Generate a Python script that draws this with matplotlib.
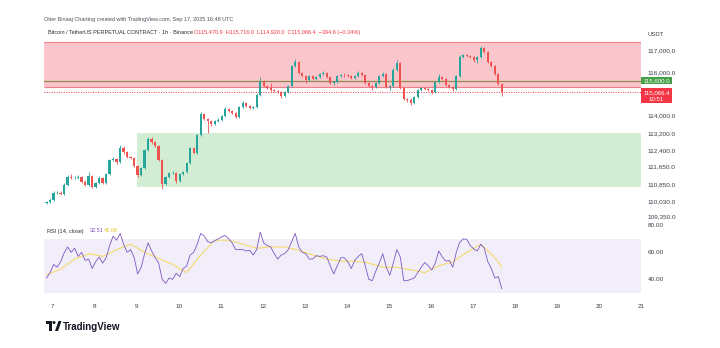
import numpy as np
import pandas as pd
import matplotlib
matplotlib.use("Agg")
import matplotlib.pyplot as plt
from matplotlib.patches import Rectangle, Polygon, Ellipse
import matplotlib.transforms as mtransforms

plt.rcParams['font.family'] = ['Liberation Sans', 'DejaVu Sans']

# ---------------- data (2h candles) ----------------
start_time = "2025-09-06 20:00"
first_open = 109970
closes = [110016, 110110, 110430, 110440, 110390, 110800, 111170, 111120, 111140, 111180,
          110940, 110800, 111220, 110710, 110890, 111120, 110900, 111300, 111950, 112000,
          111850, 112500, 112320, 112090, 112040, 111680, 111260, 111590, 112400, 112920,
          112780, 112600, 111950, 110850, 111170, 111350, 111360, 110980, 111310, 111380,
          111820, 112500, 112280, 113100, 114070, 113840, 113750, 113610, 113750, 113800,
          113980, 114300, 114210, 114120, 113940, 114400, 114580, 114440, 114350, 114390,
          114950, 115550, 115360, 115270, 115180, 115150, 115090, 114900, 115090, 115360,
          116290, 116470, 115960, 115820, 115640, 115820, 115690, 115780, 115920, 115960,
          115780, 115500, 115550, 115820, 115870, 115850, 115820, 115730, 115820, 115960,
          115870, 115500, 115360, 115320, 115500, 115820, 115920, 115320, 115360, 116100,
          116420, 115270, 114760, 114720, 114580, 114860, 115180, 115270, 115230, 115180,
          115090, 115550, 115780, 115690, 115410, 115320, 115230, 115820, 116700, 116790,
          116750, 116700, 116560, 116700, 117110, 116930, 116470, 116290, 115920, 115461,
          115066]
highs = [110080, 110180, 110500, 110520, 110500, 110870, 111260, 111300, 111220, 111260,
         111230, 111010, 111400, 111260, 110960, 111200, 111180, 111360, 112020, 112080,
         112060, 112650, 112580, 112380, 112150, 112100, 111720, 111650, 112460, 113010,
         112990, 112850, 112650, 111990, 111230, 111420, 111440, 111410, 111370, 111450,
         111880, 112560, 112540, 113160, 114170, 114120, 113900, 113790, 113810, 113870,
         114040, 114380, 114360, 114260, 114170, 114460, 114650, 114630, 114490, 114460,
         115020, 115780, 115620, 115420, 115500, 115240, 115200, 115140, 115150, 115420,
         116350, 116610, 116500, 116020, 115880, 115880, 115870, 115840, 115980, 116040,
         116010, 115830, 115600, 115880, 115930, 115950, 115900, 115870, 115880, 116040,
         116030, 115910, 115540, 115420, 115560, 115880, 116000, 115960, 115420, 116170,
         116560, 116460, 115310, 114830, 114790, 114920, 115230, 115340, 115330, 115290,
         115240, 115610, 115910, 115830, 115740, 115460, 115380, 115880, 116780, 116850,
         116860, 116810, 116760, 116760, 117200, 117170, 116980, 116520, 116330, 115970,
         115520]
lows = [109920, 109960, 110060, 110380, 110330, 110350, 110760, 111060, 111070, 111090,
        110900, 110740, 110770, 110660, 110650, 110850, 110850, 110860, 111250, 111900,
        111780, 111800, 112250, 112040, 111980, 111620, 111170, 111220, 111540, 112350,
        112700, 112530, 111900, 110620, 110800, 111110, 111300, 110880, 110940, 111260,
        111330, 111760, 112220, 112230, 113050, 113780, 113200, 113540, 113560, 113700,
        113740, 113930, 114150, 114060, 113880, 113890, 114350, 114380, 114290, 114300,
        114340, 114900, 115300, 115210, 115100, 115100, 115030, 114810, 114850, 115040,
        115310, 116230, 115910, 115760, 115500, 115580, 115640, 115640, 115730, 115870,
        115720, 115440, 115410, 115500, 115770, 115800, 115770, 115680, 115680, 115770,
        115820, 115450, 115300, 115180, 115260, 115440, 115770, 115260, 115180, 115300,
        116040, 115220, 114700, 114640, 114490, 114520, 114800, 115120, 115170, 115120,
        115000, 115040, 115500, 115630, 115350, 115260, 115140, 115170, 115760, 116640,
        116680, 116640, 116480, 116430, 116650, 116870, 116410, 116230, 115850, 115400,
        114920]
rsi = [41, 45, 51, 49, 53, 59.5, 64, 60, 63, 57, 60, 54, 55, 48, 53, 56.5, 52, 56, 65, 72,
       69, 74, 66, 60, 62, 56, 44, 49, 59, 67, 61, 56, 52, 40, 37, 41, 40, 44.5, 42, 48,
       50, 58, 60, 66, 74, 72, 68, 67, 68.5, 70, 71.5, 72.5, 70, 67, 62, 62, 62, 61, 61.5, 58,
       62, 75, 67, 65, 64, 59, 55, 58, 59, 62, 68, 74, 64, 60, 59, 55, 55, 57.5, 57, 57.5,
       56.5, 50, 44, 50, 56, 56, 53, 48, 54, 57, 59, 50, 40, 39, 46, 52, 59, 49, 43, 52,
       62, 56.5, 39, 39, 40, 41, 45, 49, 52.5, 50, 47, 52, 61, 56.5, 53.5, 54, 49, 60, 67.5, 70,
       69.5, 65, 62.5, 61, 66, 63, 53, 48, 41, 42, 33]
rsi_ma_index = [0, 4, 8, 12, 16, 20, 24, 28, 32, 36, 40, 44, 48, 52, 56, 60, 64, 68, 72, 76,
                80, 84, 88, 92, 96, 100, 104, 108, 112, 116, 120, 124, 128, 130]
rsi_ma = [43.5, 47.5, 55, 59, 57, 62, 66, 60, 55.5, 51, 45, 58, 69, 69, 66, 63, 64, 64, 61.5, 58,
          55, 53.5, 53.5, 52, 49, 49, 47, 45, 50, 53, 60, 66, 56, 49]

price_ticks = [117000, 116000, 114000, 113200, 112400, 111650, 110850, 110030, 109350]
rsi_ticks = [80, 60, 40]
day_labels = ['7', '8', '9', '10', '11', '12', '13', '14', '15', '16', '17', '18', '19', '20', '21']

red_zone = (115320, 117390)
green_zone = (110700, 113210)
green_zone_start = "2025-09-09 00:00"
level_line = 115600
last_price = 115066.4
countdown = "10:51"

header1 = "Otter Binaaj Charting created with TradingView.com, Sep 17, 2025 16:48 UTC"
header2 = "Bitcoin / TetherUS PERPETUAL CONTRACT \u00b7 1h \u00b7 Binance"
header2_vals = "O115,470.9  H115,716.0  L114,920.0  C115,066.4  \u2212394.6 (\u22120.34%)"
rsi_title = "RSI (14, close)"
rsi_val = "32.51"
rsi_ma_val = "41.08"

# ---------------- derived positions ----------------
t0 = pd.Timestamp("2025-09-07 00:00")
times = pd.date_range(start_time, periods=len(closes), freq="2h")
hrs = np.asarray((times - t0) / pd.Timedelta(hours=1), dtype=float) + 0.5
opens = np.array([first_open] + closes[:-1], dtype=float)
closes_a = np.array(closes, dtype=float)
gz_start = (pd.Timestamp(green_zone_start) - t0) / pd.Timedelta(hours=1)

UP = "#26a69a"
DOWN = "#ef5350"

W, H = 720, 348
fig = plt.figure(figsize=(7.2, 3.48), dpi=100)
fig.patch.set_facecolor("white")

def fx(x):
    return x / W

def fy(y):
    return 1 - y / H

ax = fig.add_axes([fx(44), fy(221), (641 - 44) / W, (221 - 27) / H])
axr = fig.add_axes([fx(44), fy(297), (641 - 44) / W, (297 - 221) / H])

x_lo, x_hi = -5.0, 336.0
for a in (ax, axr):
    a.set_xlim(x_lo, x_hi)
    for s in a.spines.values():
        s.set_visible(False)
    a.set_facecolor("none")

ax.set_ylim(109140, 118083)

# zones
ax.add_patch(Rectangle((x_lo, red_zone[0]), x_hi - x_lo, red_zone[1] - red_zone[0],
                       facecolor="#fbc6cb", edgecolor="none", zorder=0))
ax.hlines(list(red_zone), x_lo, x_hi, colors="#ef7f88", lw=0.8, zorder=1)
ax.add_patch(Rectangle((gz_start, green_zone[0]), x_hi - gz_start, green_zone[1] - green_zone[0],
                       facecolor="#d3ecd4", edgecolor="none", zorder=0))
ax.axhline(level_line, color="#8f8a52", lw=0.9, zorder=1)
ax.axhline(last_price, color="#f23645", lw=0.7, ls=(0, (1, 1.5)), zorder=1)

# candles
colors = [UP if c >= o else DOWN for o, c in zip(opens, closes_a)]
ax.vlines(hrs, lows, highs, colors=colors, lw=0.6, zorder=2)
bodies = np.maximum(np.abs(closes_a - opens), 18)
ax.bar(hrs, bodies, bottom=np.minimum(opens, closes_a), width=1.35, color=colors,
       linewidth=0, zorder=3)

# right price axis
ax.yaxis.tick_right()
ax.set_yticks(price_ticks)
ax.set_yticklabels([f"{v:,.1f}" for v in price_ticks])
ax.tick_params(axis="y", length=0, pad=5, labelsize=4.6, labelcolor="#3b3f4a")
ax.set_xticks([])

# price tags
tr = mtransforms.blended_transform_factory(ax.transAxes, ax.transData)
ppx = 46.1  # price per pixel
ax.add_patch(Rectangle((1.0, level_line - 3.5 * ppx), 31 / 597, 7 * ppx, transform=tr,
                       facecolor="#43a047", edgecolor="none", clip_on=False, zorder=5))
ax.text(1.0 + 15.5 / 597, level_line, f"{level_line:,.1f}", transform=tr, ha="center",
        va="center", fontsize=4.4, color="white", clip_on=False, zorder=6)
ax.add_patch(Rectangle((1.0, last_price - 11 * ppx), 31 / 597, 15 * ppx, transform=tr,
                       facecolor="#f23645", edgecolor="none", clip_on=False, zorder=5))
ax.text(1.0 + 15.5 / 597, last_price, f"{last_price:,.1f}", transform=tr, ha="center",
        va="center", fontsize=4.4, color="white", clip_on=False, zorder=6)
ax.text(1.0 + 15.5 / 597, last_price - 7 * ppx, countdown, transform=tr, ha="center",
        va="center", fontsize=4.4, color="white", clip_on=False, zorder=6)

# RSI pane
axr.set_ylim(26.9, 83.2)
axr.add_patch(Rectangle((x_lo, 30), x_hi - x_lo, 40, facecolor="#f1edf9", edgecolor="none", zorder=0))
axr.plot(hrs, rsi, color="#7e57c2", lw=0.6, zorder=3)
axr.plot(hrs[rsi_ma_index], rsi_ma, color="#f5d85a", lw=0.7, zorder=2)
axr.yaxis.tick_right()
axr.set_yticks(rsi_ticks)
axr.set_yticklabels([f"{v:.2f}" for v in rsi_ticks])
axr.tick_params(axis="y", length=0, pad=5, labelsize=4.6, labelcolor="#3b3f4a")
axr.set_xticks(np.arange(0, 24 * len(day_labels), 24))
axr.set_xticklabels(day_labels)
axr.tick_params(axis="x", length=0, pad=5, labelsize=4.6, labelcolor="#3b3f4a")

# header texts
fig.text(fx(44), fy(20), header1, fontsize=4.0, color="#50535e", va="center")
fig.text(fx(48), fy(32.5), header2, fontsize=4.0, color="#2a2e39", va="center")
fig.text(fx(194), fy(32.5), header2_vals, fontsize=4.0, color="#f23645", va="center")
fig.text(fx(647), fy(34), "USDT", fontsize=4.2, color="#3b3f4a", va="center")
fig.text(fx(47), fy(231), rsi_title, fontsize=4.0, color="#2a2e39", va="center")
fig.text(fx(90), fy(231), rsi_val, fontsize=4.0, color="#7e57c2", va="center")
fig.text(fx(104), fy(231), rsi_ma_val, fontsize=4.0, color="#e6c229", va="center")

# TradingView logo
logo_c = "#131722"
fig.patches.append(Rectangle((fx(46), fy(323.5)), 6 / W, 2.5 / H, transform=fig.transFigure,
                             facecolor=logo_c, edgecolor="none"))
fig.patches.append(Rectangle((fx(49), fy(331)), 3 / W, 10 / H, transform=fig.transFigure,
                             facecolor=logo_c, edgecolor="none"))
fig.patches.append(Ellipse((fx(54), fy(322.5)), 3 / W, 3 / H, transform=fig.transFigure,
                           facecolor=logo_c, edgecolor="none"))
fig.patches.append(Polygon([(fx(55), fy(331)), (fx(58.5), fy(321)), (fx(61.5), fy(321)),
                            (fx(58), fy(331))], closed=True, transform=fig.transFigure,
                           facecolor=logo_c, edgecolor="none"))
fig.text(fx(63), fy(326.5), "TradingView", fontsize=7.0, weight="bold", color=logo_c, va="center")

fig.savefig("out.png", dpi=100)
